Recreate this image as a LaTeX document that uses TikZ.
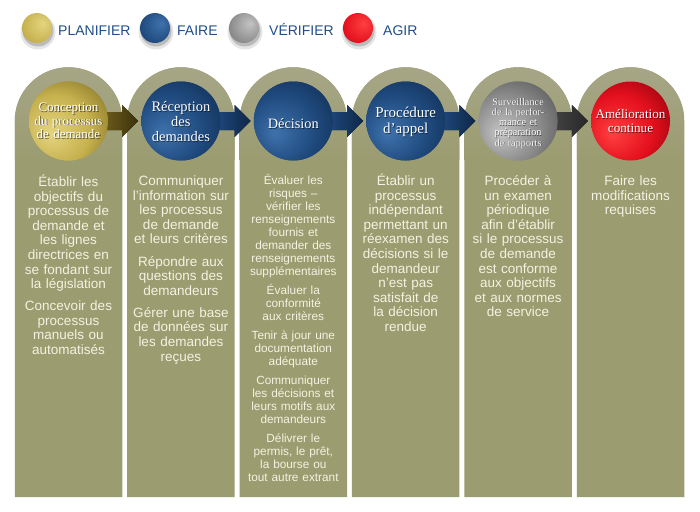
\documentclass[tikz,border=0pt]{standalone}
\usepackage{fontspec}
\setmainfont{Liberation Serif}
\newfontfamily\sansf{Liberation Sans}
\usetikzlibrary{calc}

\definecolor{colfill}{HTML}{9B9C70}
\definecolor{archtop}{HTML}{A6A687}
\definecolor{txtcream}{HTML}{F5F2E2}
\definecolor{legblue}{HTML}{1F4E8C}
\definecolor{yelL}{HTML}{E4D580}
\definecolor{yelM}{HTML}{C6B14E}
\definecolor{yelD}{HTML}{6E5E1A}
\definecolor{yelX}{HTML}{2E2608}
\definecolor{bluL}{HTML}{3F72AC}
\definecolor{bluM}{HTML}{1F4A7E}
\definecolor{bluD}{HTML}{0E2748}
\definecolor{bluX}{HTML}{050E1E}
\definecolor{gryL}{HTML}{C4C4C4}
\definecolor{gryM}{HTML}{8A8A8A}
\definecolor{gryD}{HTML}{444444}
\definecolor{gryX}{HTML}{151515}
\definecolor{redL}{HTML}{FF4040}
\definecolor{redM}{HTML}{E4101E}
\definecolor{redD}{HTML}{7A0008}
\definecolor{redX}{HTML}{2A0000}

\pgfdeclareradialshading{sphY}{\pgfpoint{-12bp}{-8bp}}{color(0bp)=(yelL); color(22bp)=(yelM); color(44bp)=(yelD); color(66bp)=(yelX)}
\pgfdeclareradialshading{sphB}{\pgfpoint{-12bp}{-8bp}}{color(0bp)=(bluL); color(22bp)=(bluM); color(44bp)=(bluD); color(66bp)=(bluX)}
\pgfdeclareradialshading{sphG}{\pgfpoint{-12bp}{-8bp}}{color(0bp)=(gryL); color(22bp)=(gryM); color(44bp)=(gryD); color(66bp)=(gryX)}
\pgfdeclareradialshading{sphR}{\pgfpoint{-12bp}{-8bp}}{color(0bp)=(redL); color(22bp)=(redM); color(44bp)=(redD); color(66bp)=(redX)}
\pgfdeclareradialshading{legY}{\pgfpoint{10bp}{8bp}}{color(0bp)=(yelL); color(30bp)=(yelM); color(50bp)=(yelD); color(66bp)=(yelX)}
\pgfdeclareradialshading{legB}{\pgfpoint{10bp}{8bp}}{color(0bp)=(bluL); color(30bp)=(bluM); color(50bp)=(bluD); color(66bp)=(bluX)}
\pgfdeclareradialshading{legG}{\pgfpoint{10bp}{8bp}}{color(0bp)=(gryL); color(30bp)=(gryM); color(50bp)=(gryD); color(66bp)=(gryX)}
\pgfdeclareradialshading{legR}{\pgfpoint{10bp}{8bp}}{color(0bp)=(redL); color(30bp)=(redM); color(50bp)=(redD); color(66bp)=(redX)}

\tikzset{
  colshape/.style={fill=colfill},
  archshape/.style={top color=archtop, bottom color=colfill},
  sphere/.style={circle, inner sep=0pt, minimum size=79pt},
  legball/.style={circle, inner sep=0pt, minimum size=30pt},
  legtext/.style={anchor=base west, inner sep=0pt, text=legblue, font=\sansf\fontsize{14}{16}\selectfont},
  coltext/.style={anchor=base, inner sep=0pt, text width=104pt, align=center, text=txtcream, font=\sansf\fontsize{13.5}{14.6}\selectfont},
  coltextsmall/.style={coltext, font=\sansf\fontsize{11.8}{13}\selectfont},
  sphtxt/.style={anchor=base, inner sep=0pt, text width=90pt, align=center, text=white},
  sphshadow/.style={sphtxt, text=black, opacity=0.55},
  arrowY/.style={left color=yelD, right color=yelX!80!yelD},
  arrowB/.style={left color=bluM, right color=bluD},
  arrowG/.style={left color=gryD, right color=gryX!60!gryD},
}

\begin{document}
\begin{tikzpicture}[x=1pt,y=-1pt]
\useasboundingbox (0,0) rectangle (700,511);
\fill[white] (0,0) rectangle (700,511);

% legend
\foreach \cx in {37,155,244,358}{
  \fill[black,opacity=0.10] (\cx+1,32) circle (17.5);
  \fill[black,opacity=0.18] (\cx+1,31) circle (15.5);
}
\node[legball, shading=legY] (l1) at (37,28) {};
\node[legball, shading=legB] (l2) at (155,28) {};
\node[legball, shading=legG] (l3) at (244,28) {};
\node[legball, shading=legR] (l4) at (358,28) {};
\node[legtext] (lt1) at (58,35) {PLANIFIER};
\node[legtext] (lt2) at (177,35) {FAIRE};
\node[legtext] (lt3) at (269,35) {VÉRIFIER};
\node[legtext] (lt4) at (383,35) {AGIR};

% columns
\foreach \cx in {68.5,180.9,293.3,405.7,518.1,630.5}{
  \fill[colshape] (\cx-53.75,497) -- (\cx-53.75,121) arc (180:360:53.75) -- (\cx+53.75,497) -- cycle;
  \path[archshape] (\cx-53.75,160) -- (\cx-53.75,121) arc (180:360:53.75) -- (\cx+53.75,160) -- cycle;
}

% spheres
\node[sphere, shading=sphY] (s1) at (68.5,121) {};
\node[sphere, shading=sphB] (s2) at (180.9,121) {};
\node[sphere, shading=sphB] (s3) at (293.3,121) {};
\node[sphere, shading=sphB] (s4) at (405.7,121) {};
\node[sphere, shading=sphG] (s5) at (518.1,121) {};
\node[sphere, shading=sphR] (s6) at (630.5,121) {};

% arrows between spheres
\foreach \i/\j/\st in {1/2/arrowY,2/3/arrowB,3/4/arrowB,4/5/arrowB,5/6/arrowG}{
  \fill[\st] ($(s\i.east)+(-6,-9)$) -- ($(s\j.west)+(-19,-9)$) -- ($(s\j.west)+(-19,-16)$)
    -- ($(s\j.west)+(-3,0)$) -- ($(s\j.west)+(-19,16)$) -- ($(s\j.west)+(-19,9)$)
    -- ($(s\i.east)+(-6,9)$) -- cycle;
}
% redraw spheres over arrow bases
\foreach \i/\sh in {1/sphY,2/sphB,3/sphB,4/sphB,5/sphG}{
  \path[shading=\sh] (s\i.center) circle (39.5);
}

% sphere texts
\newcommand{\sphlabel}[6]{% name, x, y, font, shadow offset, text
  \node[sphshadow, font=#4] (#1sh) at (#2+#5,#3+#5) {#6};
  \node[sphtxt, font=#4] (#1) at (#2,#3) {#6};
}
\sphlabel{t1}{68.5}{111.5}{\fontsize{13}{13.5}\selectfont}{0.8}{Conception\\du processus\\de demande}
\sphlabel{t2}{180.9}{111.5}{\fontsize{14.5}{15}\selectfont}{0.8}{Réception\\des\\demandes}
\sphlabel{t3}{293.3}{128.5}{\fontsize{14.3}{15}\selectfont}{0.8}{Décision}
\sphlabel{t4}{405.7}{117.5}{\fontsize{15}{16}\selectfont}{0.8}{Procédure\\d’appel}
\sphlabel{t5}{518.1}{105}{\fontsize{10.3}{10.3}\selectfont}{0.5}{Surveillance\\de la perfor-\\mance et\\préparation\\de rapports}
\sphlabel{t6}{630.5}{118.5}{\fontsize{13.1}{14}\selectfont}{0.8}{Amélioration\\continue}

% column texts
\node[coltext] (c1) at (68.5,186.5) {Établir les\\objectifs du\\processus de\\demande et\\les lignes\\directrices en\\se fondant sur\\la législation\\[7.4pt]Concevoir des\\processus\\manuels ou\\automatisés};
\node[coltext] (c2) at (180.9,185.5) {Communiquer\\l’information sur\\les processus\\de demande\\et leurs critères\\[7.6pt]Répondre aux\\questions des\\demandeurs\\[7.4pt]Gérer une base\\de données sur\\les demandes\\reçues};
\node[coltextsmall] (c3) at (293.3,184.5) {Évaluer les\\risques –\\vérifier les\\renseignements\\fournis et\\demander des\\renseignements\\supplémentaires\\[6pt]Évaluer la\\conformité\\aux critères\\[6pt]Tenir à jour une\\documentation\\adéquate\\[6pt]Communiquer\\les décisions et\\leurs motifs aux\\demandeurs\\[6pt]Délivrer le\\permis, le prêt,\\la bourse ou\\tout autre extrant};
\node[coltext] (c4) at (405.7,185.5) {Établir un\\processus\\indépendant\\permettant un\\réexamen des\\décisions si le\\demandeur\\n’est pas\\satisfait de\\la décision\\rendue};
\node[coltext] (c5) at (518.1,185.5) {Procéder à\\un examen\\périodique\\afin d’établir\\si le processus\\de demande\\est conforme\\aux objectifs\\et aux normes\\de service};
\node[coltext] (c6) at (630.5,185.5) {Faire les\\modifications\\requises};
\end{tikzpicture}
\end{document}
